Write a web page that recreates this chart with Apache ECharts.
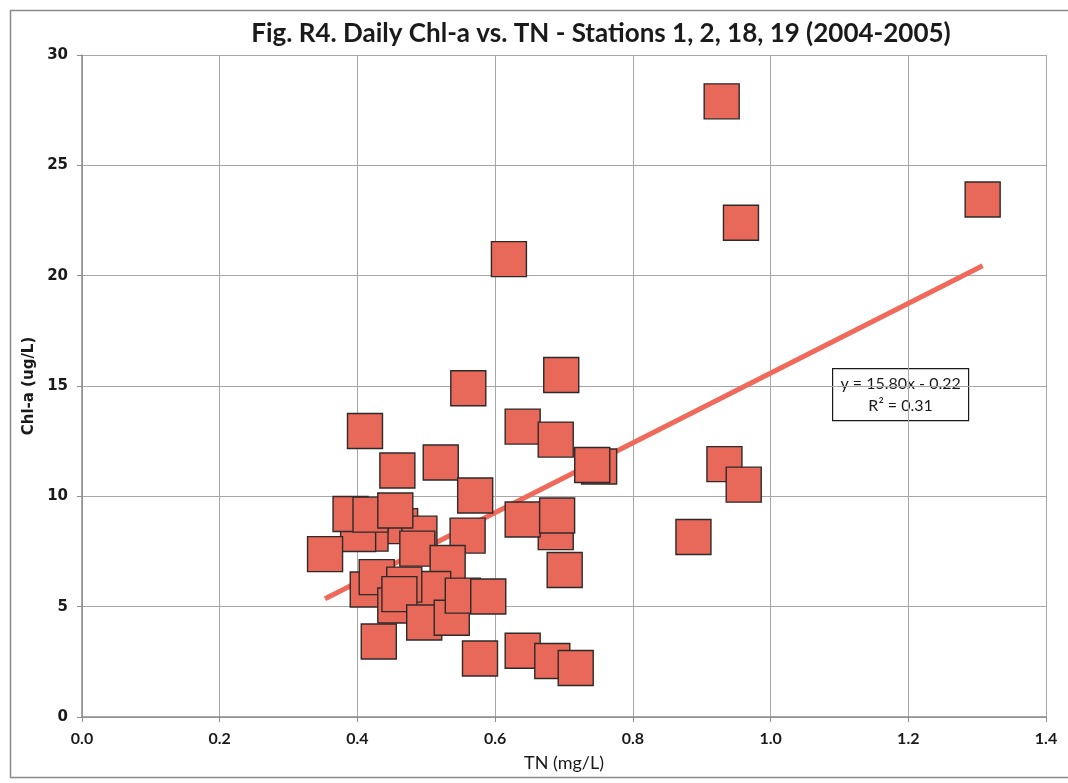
<!DOCTYPE html>
<html>
<head>
<meta charset="utf-8">
<title>Daily Chl-a vs. TN</title>
<script src="https://cdn.jsdelivr.net/npm/echarts@6/dist/echarts.min.js"></script>
<style>
  html, body { margin: 0; padding: 0; background: #fff; }
  #chart { width: 1068px; height: 783px; }
</style>
</head>
<body>
<div id="chart"></div>
<script>
// Daily samples, stations 1, 2, 18, 19 (2004-2005), listed back to front
const tn = [
  0.929, 0.957, 1.308, 0.620, 0.561, 0.696, 0.411, 0.640, 0.688, 0.458,
  0.521, 0.751, 0.741, 0.933, 0.961, 0.571, 0.888, 0.688, 0.640, 0.690,
  0.701, 0.462, 0.490, 0.419, 0.401, 0.390, 0.419, 0.455, 0.487, 0.353,
  0.560, 0.531, 0.510, 0.415, 0.428, 0.468, 0.455, 0.461, 0.497, 0.537,
  0.553, 0.590, 0.431, 0.578, 0.640, 0.683, 0.717
];
const chl = [
  27.90, 22.40, 23.45, 20.75, 14.90, 15.50, 12.96, 13.16, 12.57, 11.17,
  11.53, 11.35, 11.42, 11.46, 10.53, 10.04, 8.16, 8.38, 8.95, 9.13,
  6.66, 8.65, 8.31, 8.31, 8.29, 9.20, 9.17, 9.36, 7.63, 7.38,
  8.22, 6.98, 5.80, 5.78, 6.34, 6.00, 5.05, 5.57, 4.28, 4.50,
  5.50, 5.46, 3.42, 2.65, 3.00, 2.54, 2.22
];

// Linear fit reported for the data
const fitSlope = 15.80;
const fitIntercept = -0.22;
const fitR2 = 0.31;

// Axis ticks
const xTicks = [0.0, 0.2, 0.4, 0.6, 0.8, 1.0, 1.2, 1.4];
const yTicks = [0, 5, 10, 15, 20, 25, 30];

const points = tn.map((x, i) => [x, chl[i]]);
const xMin = Math.min(...tn);
const xMax = Math.max(...tn);
const fitLine = [
  [xMin, fitSlope * xMin + fitIntercept],
  [xMax, fitSlope * xMax + fitIntercept]
];

const chart = echarts.init(document.getElementById('chart'), null, { renderer: 'canvas' });

const gridLeft = 82, gridTop = 55, gridRight = 22, gridBottom = 66;
const axisGray = '#8c8c8c';
const gridGray = '#a6a6a6';

chart.setOption({
  animation: false,
  backgroundColor: '#ffffff',
  title: {
    text: 'Fig. R4. Daily Chl-a vs. TN - Stations 1, 2, 18, 19 (2004-2005)',
    left: 596,
    top: 16,
    textAlign: 'center',
    textStyle: {
      fontFamily: 'Lato',
      fontWeight: 'bold',
      fontSize: 26,
      color: '#1a1a1a'
    }
  },
  grid: { left: gridLeft, top: gridTop, right: gridRight, bottom: gridBottom },
  xAxis: {
    type: 'value',
    min: xTicks[0],
    max: xTicks[xTicks.length - 1],
    interval: 0.2,
    name: 'TN (mg/L)',
    nameLocation: 'middle',
    nameGap: 37,
    nameTextStyle: { fontFamily: 'Lato', fontSize: 18, color: '#1a1a1a' },
    axisLine: { show: true, onZero: false, lineStyle: { color: axisGray, width: 1.5 } },
    axisTick: { show: true, length: 5, lineStyle: { color: axisGray } },
    axisLabel: {
      margin: 14,
      fontFamily: 'Lato',
      fontWeight: 'bold',
      fontSize: 16,
      color: '#1a1a1a',
      formatter: v => v.toFixed(1)
    },
    splitLine: { show: true, lineStyle: { color: gridGray, width: 1 } }
  },
  yAxis: {
    type: 'value',
    min: yTicks[0],
    max: yTicks[yTicks.length - 1],
    interval: 5,
    name: 'Chl-a (ug/L)',
    nameLocation: 'middle',
    nameGap: 45,
    nameRotate: 90,
    nameTextStyle: { fontFamily: 'DejaVu Sans', fontWeight: 'bold', fontSize: 15, color: '#1a1a1a' },
    axisLine: { show: true, lineStyle: { color: axisGray, width: 1.5 } },
    axisTick: { show: true, length: 5, lineStyle: { color: axisGray } },
    axisLabel: {
      margin: 14,
      fontFamily: 'DejaVu Sans',
      fontWeight: 'bold',
      fontSize: 15,
      color: '#1a1a1a'
    },
    splitLine: { show: true, lineStyle: { color: gridGray, width: 1 } }
  },
  series: [
    {
      name: 'Trend',
      type: 'line',
      data: fitLine,
      symbol: 'none',
      z: 1,
      lineStyle: { color: '#ef6a5b', width: 5 },
      silent: true
    },
    {
      name: 'Chl-a',
      type: 'scatter',
      data: points,
      symbol: 'rect',
      symbolSize: 35,
      z: 2,
      itemStyle: {
        color: '#e8695a',
        borderColor: '#2e2a28',
        borderWidth: 1.4,
        opacity: 1
      }
    }
  ],
  graphic: [
    {
      type: 'rect',
      left: 8,
      top: 8,
      shape: { width: 1075, height: 767 },
      style: { fill: 'none', stroke: '#8a8a8a', lineWidth: 1.5 },
      silent: true,
      z: 0
    },
    {
      type: 'group',
      left: 832,
      top: 368,
      z: 10,
      children: [
        {
          type: 'rect',
          shape: { x: 0, y: 0, width: 136, height: 52 },
          style: { fill: '#ffffff', stroke: '#1a1a1a', lineWidth: 1.2 }
        },
        {
          type: 'text',
          x: 68,
          y: 15,
          style: {
            text: 'y = ' + fitSlope.toFixed(2) + 'x - ' + Math.abs(fitIntercept).toFixed(2),
            fontFamily: 'Lato',
            fontSize: 16,
            fill: '#1a1a1a',
            align: 'center',
            verticalAlign: 'middle'
          }
        },
        {
          type: 'text',
          x: 68,
          y: 37,
          style: {
            text: 'R² = ' + fitR2.toFixed(2),
            fontFamily: 'Lato',
            fontSize: 16,
            fill: '#1a1a1a',
            align: 'center',
            verticalAlign: 'middle'
          }
        }
      ]
    }
  ]
});
</script>
</body>
</html>
